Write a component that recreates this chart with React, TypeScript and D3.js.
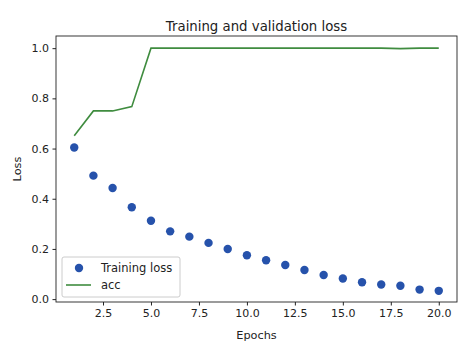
import React, { useEffect, useRef } from 'react';
import * as d3 from 'd3';

const epochs = [1, 2, 3, 4, 5, 6, 7, 8, 9, 10, 11, 12, 13, 14, 15, 16, 17, 18, 19, 20];
const trainingLoss = [
  0.604, 0.492, 0.443, 0.366, 0.312, 0.27, 0.249, 0.224, 0.2, 0.175,
  0.155, 0.136, 0.116, 0.096, 0.082, 0.067, 0.058, 0.053, 0.038, 0.033,
];
const acc = [
  0.651, 0.75, 0.75, 0.767, 1.0, 1.0, 1.0, 1.0, 1.0, 1.0,
  1.0, 1.0, 1.0, 1.0, 1.0, 1.0, 1.0, 0.998, 1.0, 1.0,
];
const xTicks = [2.5, 5.0, 7.5, 10.0, 12.5, 15.0, 17.5, 20.0];
const yTicks = [0.0, 0.2, 0.4, 0.6, 0.8, 1.0];

const W = 475;
const H = 351;
const FONT = 'DejaVu Sans, sans-serif';

export default function App() {
  const svgRef = useRef<SVGSVGElement>(null);

  useEffect(() => {
    if (!svgRef.current) return;
    const svg = d3.select(svgRef.current);
    svg.selectAll('*').remove();

    const left = 56;
    const right = 457;
    const top = 36;
    const bottom = 302;

    const x = d3.scaleLinear().domain([0.05, 20.95]).range([left, right]);
    const y = d3.scaleLinear().domain([-0.0115, 1.0485]).range([bottom, top]);

    svg.append('rect').attr('width', W).attr('height', H).attr('fill', '#fff');

    // acc line
    const line = d3
      .line<number>()
      .x((_, i) => x(epochs[i]))
      .y((d) => y(d));
    svg
      .append('path')
      .datum(acc)
      .attr('d', line)
      .attr('fill', 'none')
      .attr('stroke', '#3f8c3f')
      .attr('stroke-width', 1.6);

    // training loss dots
    svg
      .append('g')
      .selectAll('circle')
      .data(trainingLoss)
      .enter()
      .append('circle')
      .attr('cx', (_, i) => x(epochs[i]))
      .attr('cy', (d) => y(d))
      .attr('r', 4.2)
      .attr('fill', '#2652ab');

    // frame
    svg
      .append('rect')
      .attr('x', left)
      .attr('y', top)
      .attr('width', right - left)
      .attr('height', bottom - top)
      .attr('fill', 'none')
      .attr('stroke', '#222')
      .attr('stroke-width', 0.9);

    // x axis
    const xAxis = svg
      .append('g')
      .attr('transform', `translate(0,${bottom})`)
      .call(
        d3
          .axisBottom(x)
          .tickValues(xTicks)
          .tickSize(3.5)
          .tickPadding(3.5)
          .tickFormat((d) => (d as number).toFixed(1))
      );
    xAxis.select('.domain').remove();
    xAxis.selectAll('line').attr('stroke', '#222');
    xAxis
      .selectAll('text')
      .attr('fill', '#222')
      .attr('font-family', FONT)
      .attr('font-size', 11);

    // y axis
    const yAxis = svg
      .append('g')
      .attr('transform', `translate(${left},0)`)
      .call(
        d3
          .axisLeft(y)
          .tickValues(yTicks)
          .tickSize(3.5)
          .tickPadding(3.5)
          .tickFormat((d) => (d as number).toFixed(1))
      );
    yAxis.select('.domain').remove();
    yAxis.selectAll('line').attr('stroke', '#222');
    yAxis
      .selectAll('text')
      .attr('fill', '#222')
      .attr('font-family', FONT)
      .attr('font-size', 11);

    // title & labels
    svg
      .append('text')
      .attr('x', (left + right) / 2)
      .attr('y', 30.5)
      .attr('text-anchor', 'middle')
      .attr('font-family', FONT)
      .attr('font-size', 13.3)
      .attr('fill', '#222')
      .text('Training and validation loss');

    svg
      .append('text')
      .attr('x', (left + right) / 2)
      .attr('y', 339)
      .attr('text-anchor', 'middle')
      .attr('font-family', FONT)
      .attr('font-size', 11.3)
      .attr('fill', '#222')
      .text('Epochs');

    svg
      .append('text')
      .attr('transform', `translate(21,${(top + bottom) / 2}) rotate(-90)`)
      .attr('text-anchor', 'middle')
      .attr('font-family', FONT)
      .attr('font-size', 11.3)
      .attr('fill', '#222')
      .text('Loss');

    // legend
    const lg = svg.append('g').attr('transform', 'translate(62,257)');
    lg.append('rect')
      .attr('width', 118)
      .attr('height', 40)
      .attr('rx', 2)
      .attr('fill', '#fff')
      .attr('fill-opacity', 0.8)
      .attr('stroke', '#ccc');
    lg.append('circle').attr('cx', 17).attr('cy', 11).attr('r', 4.2).attr('fill', '#2652ab');
    lg.append('line')
      .attr('x1', 4)
      .attr('x2', 29)
      .attr('y1', 28)
      .attr('y2', 28)
      .attr('stroke', '#3f8c3f')
      .attr('stroke-width', 1.6);
    lg.append('text')
      .attr('x', 39)
      .attr('y', 15)
      .attr('font-family', FONT)
      .attr('font-size', 11.5)
      .attr('fill', '#222')
      .text('Training loss');
    lg.append('text')
      .attr('x', 39)
      .attr('y', 32)
      .attr('font-family', FONT)
      .attr('font-size', 11.5)
      .attr('fill', '#222')
      .text('acc');
  }, []);

  return (
    <svg
      ref={svgRef}
      width={W}
      height={H}
      style={{ position: 'absolute', left: 0, top: 0, display: 'block' }}
    />
  );
}
